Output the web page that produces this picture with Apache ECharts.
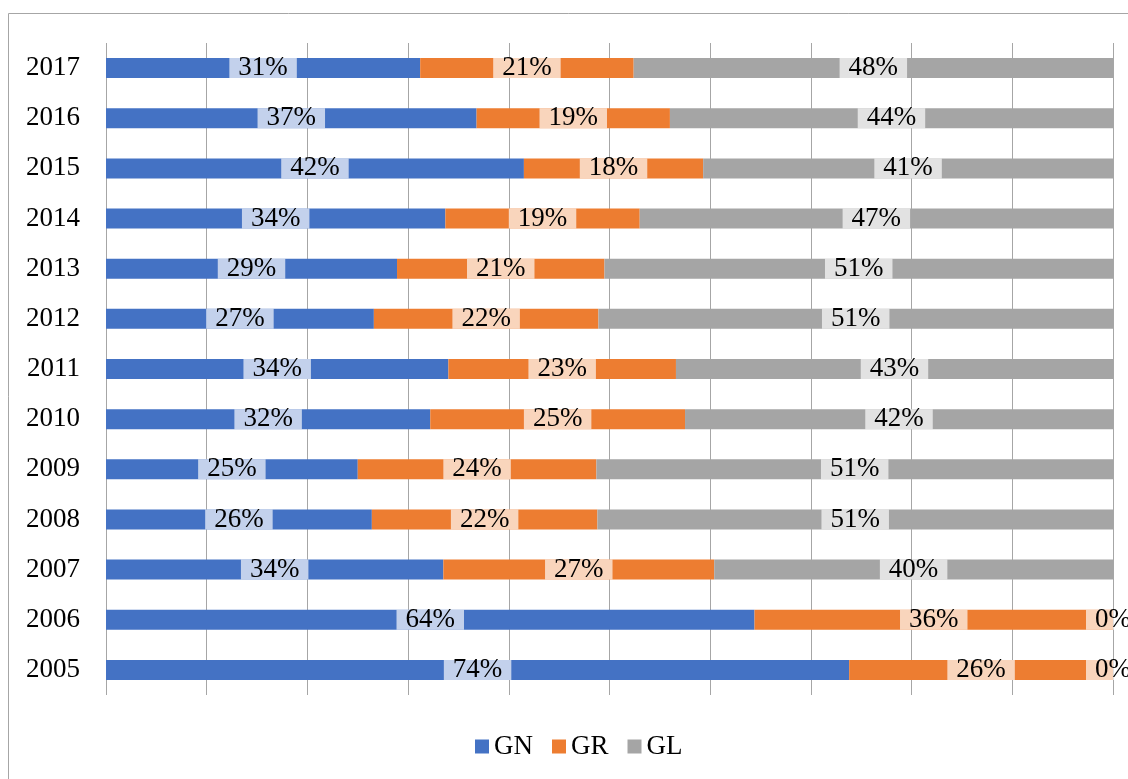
<!DOCTYPE html>
<html>
<head>
<meta charset="utf-8">
<script src="https://cdn.jsdelivr.net/npm/echarts@6/dist/echarts.min.js"></script>
<style>
html,body{margin:0;padding:0;background:#fff;}
#chart{width:1128px;height:779px;}
</style>
</head>
<body>
<div id="chart"></div>
<script>
const categories = ['2005','2006','2007','2008','2009','2010','2011','2012','2013','2014','2015','2016','2017'];
const gnValues = [73.8, 64.4, 33.5, 26.4, 25.0, 32.2, 34.0, 26.6, 28.9, 33.7, 41.5, 36.8, 31.2];
const grValues = [26.2, 35.6, 26.9, 22.4, 23.7, 25.3, 22.6, 22.3, 20.6, 19.3, 17.8, 19.2, 21.2];
const glValues = [0, 0, 39.6, 51.2, 51.3, 42.5, 43.4, 51.1, 50.5, 47.0, 40.7, 44.0, 47.6];
const gnLabels = ['74%','64%','34%','26%','25%','32%','34%','27%','29%','34%','42%','37%','31%'];
const grLabels = ['26%','36%','27%','22%','24%','25%','23%','22%','21%','19%','18%','19%','21%'];
const glLabels = ['0%','0%','40%','51%','51%','42%','43%','51%','51%','47%','41%','44%','48%'];
const xTicks = [0, 100, 10];

const FONT = '"Liberation Serif", "Times New Roman", serif';

function mkLabel(texts) {
  return {
    show: true,
    position: 'inside',
    formatter: p => texts[p.dataIndex],
    color: '#000',
    fontFamily: FONT,
    fontSize: 27,
    lineHeight: 20,
    padding: [0, 9],
    backgroundColor: 'rgba(255,255,255,0.68)',
    textBorderWidth: 0
  };
}

function mkSeries(name, data, color, texts) {
  return {
    name: name,
    type: 'bar',
    stack: 'total',
    data: data,
    barWidth: 20,
    itemStyle: { color: color },
    label: mkLabel(texts),
    emphasis: { disabled: true },
    animation: false
  };
}

const chart = echarts.init(document.getElementById('chart'), null, { renderer: 'canvas' });
chart.setOption({
  backgroundColor: '#fff',
  animation: false,
  graphic: [{
    type: 'rect',
    shape: { x: 8.5, y: 13.5, width: 1200, height: 900 },
    style: { fill: 'none', stroke: '#a6a6a6', lineWidth: 1 },
    z: 100,
    silent: true
  }],
  grid: { left: 106, right: 15, top: 43, bottom: 84, containLabel: false },
  legend: {
    top: 733,
    left: 475,
    icon: 'rect',
    itemWidth: 14,
    itemHeight: 14,
    itemGap: 19,
    padding: 0,
    textStyle: { fontFamily: FONT, fontSize: 27, color: '#000' },
    data: ['GN', 'GR', 'GL']
  },
  xAxis: {
    type: 'value',
    min: xTicks[0],
    max: xTicks[1],
    interval: xTicks[2],
    axisLabel: { show: false },
    axisLine: { show: false },
    axisTick: { show: false },
    splitLine: { show: true, lineStyle: { color: '#a6a6a6', width: 1 } }
  },
  yAxis: {
    type: 'category',
    data: categories,
    axisLine: { show: false },
    axisTick: { show: false },
    axisLabel: { fontFamily: FONT, fontSize: 27, color: '#000', margin: 26 },
    splitLine: { show: false }
  },
  series: [
    mkSeries('GN', gnValues, '#4472c4', gnLabels),
    mkSeries('GR', grValues, '#ed7d31', grLabels),
    mkSeries('GL', glValues, '#a5a5a5', glLabels)
  ]
});
</script>
</body>
</html>
